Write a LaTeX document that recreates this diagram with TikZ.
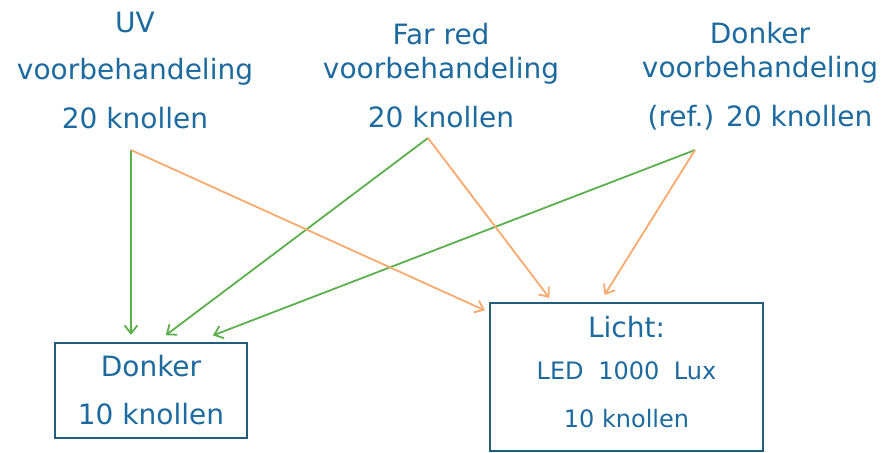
\documentclass[tikz,border=0pt]{standalone}
\usepackage{fontspec}
\setmainfont{DejaVu Sans}
\usetikzlibrary{arrows.meta}
\definecolor{tekst}{RGB}{28,106,158}
\definecolor{rand}{RGB}{33,92,124}
\definecolor{groen}{RGB}{92,176,76}
\definecolor{oranje}{RGB}{248,170,110}

\begin{document}
\begin{tikzpicture}[x=1pt, y=-1pt,
	groot/.style={text=tekst, font=\fontsize{28}{34}\selectfont, align=center, inner sep=0pt},
	doos/.style={draw=rand, line width=2.4pt, inner sep=0pt},
	pijl/.style={line width=1.8pt, shorten >=1pt, -{Straight Barb[length=8pt,width=13pt]}}]
	\useasboundingbox (0,0) rectangle (885,452);
	\node[groot] (uv) at (135,70) {UV\\[13pt]voorbehandeling\\[15pt]20 knollen};
	\node[groot] (fr) at (441,76) {Far red\\voorbehandeling\\[15pt]20 knollen};
	\node[groot] (dv) at (760,76) {Donker\\voorbehandeling\\[15pt](ref.) 20 knollen};
	\coordinate (uvo) at (131,150);
	\coordinate (fro) at (428,138);
	\coordinate (dvo) at (695,150);
	\node[doos, minimum width=192pt, minimum height=95pt] (donker) at (151,390.5) {};
	\node[groot, font=\fontsize{28}{48}\selectfont] (donkertekst) at (donker.center) {Donker\\10 knollen};
	\node[doos, minimum width=273pt, minimum height=148pt] (licht) at (626.5,377) {};
	\node[groot] (lichttekst) at ([yshift=5pt]licht.center) {Licht:\\[8pt]{\fontsize{24}{28}\selectfont LED\hspace{7pt} 1000\hspace{7pt} Lux}\\[14pt]{\fontsize{24}{28}\selectfont 10 knollen}};
	\begin{scope}[groen, pijl]
		\draw (uvo) -- ([xshift=-20pt, yshift=6pt]donker.north);
		\draw (fro) -- ([xshift=14pt, yshift=6pt]donker.north);
		\draw (dvo) -- ([xshift=61pt, yshift=6pt]donker.north);
	\end{scope}
	\begin{scope}[oranje, pijl]
		\draw (uvo) -- ([xshift=-3pt, yshift=-9pt]licht.north west);
		\draw (fro) -- ([xshift=-76.5pt, yshift=3pt]licht.north);
		\draw (dvo) -- ([xshift=-22.5pt, yshift=6pt]licht.north);
	\end{scope}
\end{tikzpicture}
\end{document}
